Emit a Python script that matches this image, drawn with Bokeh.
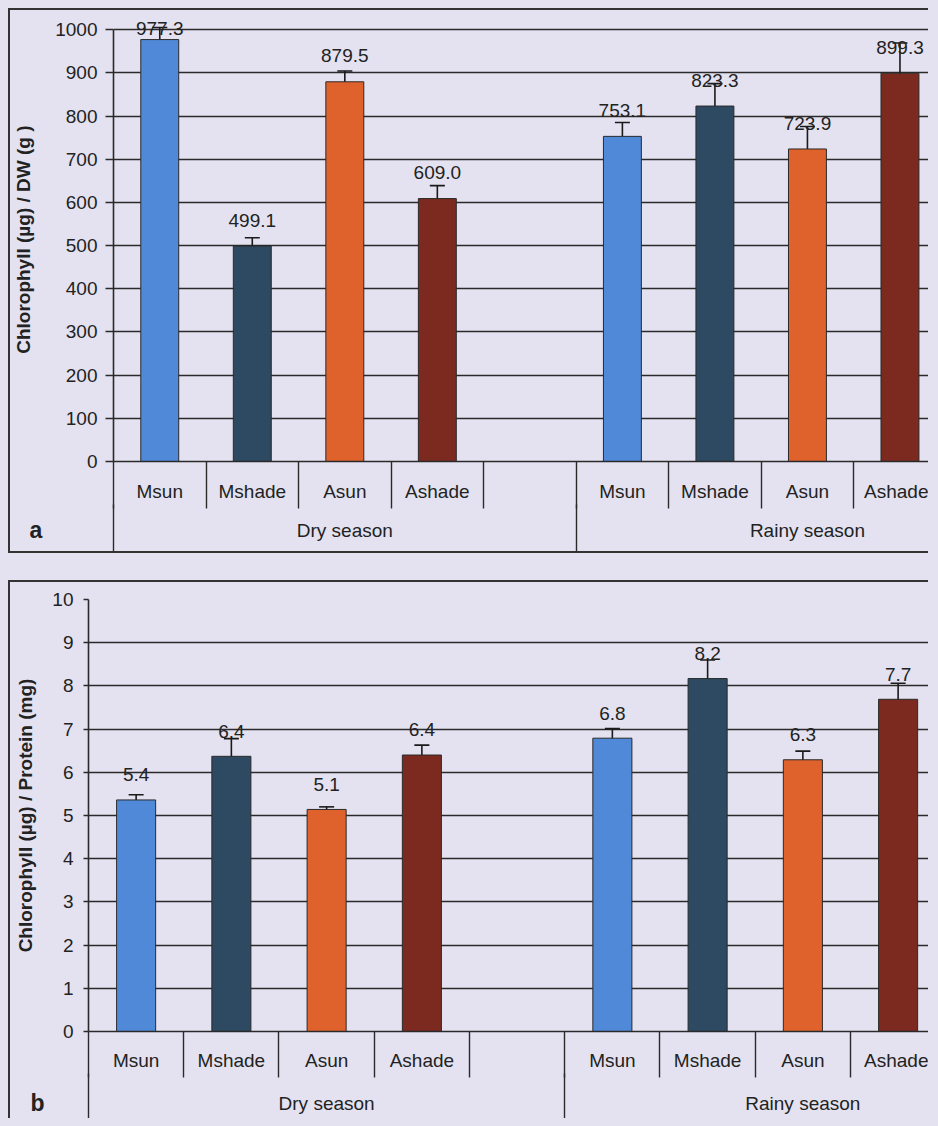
import numpy as np
from bokeh.plotting import figure
from bokeh.models import ColumnDataSource, FixedTicker, LinearAxis, Range1d, Whisker, Title, TeeHead
from bokeh.embed import file_html
from bokeh.resources import INLINE
from bokeh.core.properties import value

# ---------------- data ----------------
seasons = ["Dry season", "Rainy season"]
treatments = ["Msun", "Mshade", "Asun", "Ashade"]
colors = ["#5089d8", "#2d4a62", "#df622d", "#7c2a1f"]

dw_dry = [977.3, 499.1, 879.5, 609.0]
dw_rainy = [753.1, 823.3, 723.9, 899.3]
dw_err_dry = [28, 19, 25, 30]
dw_err_rainy = [32, 52, 52, 70]
dw_ticks = list(range(0, 1001, 100))

prot_dry = [5.36, 6.37, 5.14, 6.40]
prot_rainy = [6.79, 8.17, 6.29, 7.69]
prot_err_dry = [0.12, 0.41, 0.06, 0.23]
prot_err_rainy = [0.22, 0.43, 0.20, 0.37]
prot_ticks = list(range(0, 11))

BG = "#e4e2f0"
INK = "#2a2a2a"
FONT = "Liberation Sans"
SLOTS_PER_SEASON = [5, 4]


def make_panel(vals, errs, ticks, ylabel, letter, cfg):
    starts = np.cumsum([0] + SLOTS_PER_SEASON[:-1])
    xs, ys, es, cs, names = [], [], [], [], []
    for s, (sv, se) in enumerate(zip(vals, errs)):
        for i, (v, e) in enumerate(zip(sv, se)):
            xs.append(starts[s] + i + 0.5)
            ys.append(v)
            es.append(e)
            cs.append(colors[i])
            names.append(treatments[i])
    xs = np.array(xs, float)
    ys = np.array(ys, float)
    es = np.array(es, float)
    lab_y = np.minimum(ys + cfg["lab_off"], cfg["lab_max"])
    src = ColumnDataSource(dict(x=xs, top=ys, upper=ys + es, lower=ys - es,
                                color=cs, lab=[f"{v:.1f}" for v in ys], laby=lab_y))

    p = figure(width=920, height=cfg["height"], output_backend="svg", toolbar_location=None,
               x_range=Range1d(0, cfg["x_end"]), y_range=Range1d(0, cfg["y_end"]),
               min_border_left=cfg["mbl"], min_border_right=0,
               min_border_top=cfg["mbt"], min_border_bottom=cfg["mbb"],
               background_fill_color=BG, border_fill_color=BG)
    p.outline_line_color = None
    p.xgrid.visible = False
    p.ygrid.ticker = FixedTicker(ticks=ticks)
    p.ygrid.grid_line_color = INK
    p.ygrid.grid_line_width = 1.3

    p.vbar(x="x", top="top", width=0.41, source=src, fill_color="color",
           line_color=INK, line_width=1)
    p.text(x="x", y="laby", text="lab", source=src, text_align="center",
           text_baseline="middle", text_font=value(FONT), text_font_size="19px",
           text_color="#222222")
    w = Whisker(source=src, base="x", upper="upper", lower="lower",
                line_color="#1a1a1a", line_width=1.6)
    w.upper_head = TeeHead(size=15, line_color="#1a1a1a", line_width=1.6)
    w.lower_head = TeeHead(size=15, line_color="#1a1a1a", line_width=1.6)
    p.add_layout(w)

    # y axis
    ya = p.yaxis[0]
    ya.ticker = FixedTicker(ticks=ticks)
    ya.bounds = (ticks[0], ticks[-1])
    ya.axis_line_color = INK
    ya.axis_line_width = 1.6
    ya.major_tick_line_color = INK
    ya.major_tick_line_width = 1.4
    ya.major_tick_out = cfg["tick_out"]
    ya.major_tick_in = 0
    ya.minor_tick_line_color = None
    ya.major_label_standoff = cfg["tick_standoff"]
    ya.major_label_text_font = FONT
    ya.major_label_text_font_size = "19px"
    ya.major_label_text_color = "#222222"
    ya.axis_label = ylabel
    ya.axis_label_text_font = FONT
    ya.axis_label_text_font_style = "bold"
    ya.axis_label_text_font_size = "19px"
    ya.axis_label_text_color = "#222222"
    ya.axis_label_standoff = cfg["als"]

    # treatment axis with separators (minor ticks at slot boundaries)
    centers = list(xs)
    bounds = [float(b) for b in range(0, int(np.floor(cfg["x_end"])) + 1)]
    xa = p.xaxis[0]
    xa.ticker = FixedTicker(ticks=centers, minor_ticks=bounds)
    xa.major_label_overrides = {float(c): n for c, n in zip(centers, names)}
    xa.axis_line_color = INK
    xa.axis_line_width = 1.6
    xa.major_tick_line_color = None
    xa.major_tick_out = 0
    xa.major_tick_in = 0
    xa.minor_tick_line_color = INK
    xa.minor_tick_line_width = 1.4
    xa.minor_tick_in = 0
    xa.minor_tick_out = cfg["sep_out"]
    xa.major_label_standoff = cfg["s1"]
    xa.major_label_text_font = FONT
    xa.major_label_text_font_size = "19px"
    xa.major_label_text_color = "#222222"

    # season axis
    season_centers = [float(starts[s] + SLOTS_PER_SEASON[s] / 2.0) if s == 0 else
                      float(starts[s] + SLOTS_PER_SEASON[s] / 2.0 + 0.5) for s in range(len(seasons))]
    season_bounds = [float(b) for b in starts]
    sa = LinearAxis(ticker=FixedTicker(ticks=season_centers, minor_ticks=season_bounds))
    sa.major_label_overrides = {c: n for c, n in zip(season_centers, seasons)}
    sa.axis_line_color = None
    sa.major_tick_line_color = None
    sa.major_tick_out = 0
    sa.major_tick_in = 0
    sa.minor_tick_line_color = INK
    sa.minor_tick_line_width = 1.4
    sa.minor_tick_in = 0
    sa.minor_tick_out = cfg["long_out"]
    sa.major_label_standoff = cfg["s2"]
    sa.major_label_text_font = FONT
    sa.major_label_text_font_size = "19px"
    sa.major_label_text_color = "#222222"
    p.add_layout(sa, "below")

    t = Title(text=letter, align="left", vertical_align="top",
              offset=cfg["let_off"], standoff=cfg["let_standoff"],
              text_font=FONT, text_font_style="bold", text_font_size="23px",
              text_color="#222222")
    p.add_layout(t, "below")

    st = {"border-top": "2px solid #333", "border-left": "2px solid #333",
          "margin-top": "%dpx" % cfg["gap"]}
    if cfg["bottom_border"]:
        st["border-bottom"] = "2px solid #333"
    p.styles = st
    return p


cfg_a = dict(height=545, x_end=8.83, y_end=1040, mbl=101, mbt=2, mbb=94,
             tick_out=8, tick_standoff=8, als=18, lab_off=60, lab_max=1002,
             sep_out=47, s1=-28, long_out=60, s2=-45, let_off=-84, let_standoff=-53,
             gap=0, bottom_border=True)
cfg_b = dict(height=538, x_end=8.84, y_end=10, mbl=78, mbt=17, mbb=89,
             tick_out=5, tick_standoff=10, als=13, lab_off=0.58, lab_max=10,
             sep_out=46, s1=-28, long_out=60, s2=-41, let_off=-58, let_standoff=-53,
             gap=27, bottom_border=False)

pa = make_panel([dw_dry, dw_rainy], [dw_err_dry, dw_err_rainy], dw_ticks,
                "Chlorophyll (µg)  / DW (g )", "a", cfg_a)
pb = make_panel([prot_dry, prot_rainy], [prot_err_dry, prot_err_rainy], prot_ticks,
                "Chlorophyll (µg) / Protein (mg)", "b", cfg_b)

html = file_html((pa, pb), INLINE, title="Chlorophyll")
css = ("<style>html, body {background-color: %s !important;} "
       "body {padding: 8px !important; margin: 0 !important;}</style></head>" % BG)
html = html.replace("</head>", css, 1)
open("out.html", "w").write(html)
